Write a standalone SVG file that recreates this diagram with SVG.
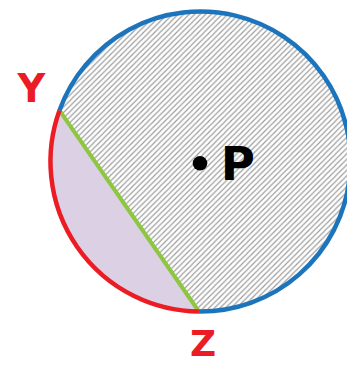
<svg xmlns="http://www.w3.org/2000/svg" width="347" height="365" viewBox="0 0 347 365">
  <style>
    .lbl { font-family: "DejaVu Sans", "Liberation Sans", sans-serif; font-weight: bold; }
    .red { fill: #ec1c24; }
  </style>
  <defs>
    <pattern id="hatch" patternUnits="userSpaceOnUse" width="5.5" height="5.5">
      <path d="M-1,1 L1,-1 M0,5.5 L5.5,0 M4.5,6.5 L6.5,4.5" stroke="#9c9c9c" stroke-width="1.15" fill="none"/>
    </pattern>
  </defs>
  <rect width="347" height="365" fill="#ffffff"/>
  <g id="major-segment">
    <path d="M59.45,110.4 A150,150 0 1 1 198.9,311.5 Z" fill="url(#hatch)"/>
  </g>
  <g id="minor-segment">
    <path d="M59.45,110.4 A150,150 0 0 0 198.9,311.5 Z" fill="#dcd0e5"/>
  </g>
  <g id="connectors">
    <path id="chord-YZ" d="M59.45,110.4 L198.9,311.5" stroke="#8dc63f" stroke-width="4" fill="none"/>
    <path id="arc-major" d="M59.45,110.4 A150,150 0 1 1 198.9,311.5" stroke="#1c75bc" stroke-width="4.5" fill="none"/>
    <path id="arc-minor" d="M59.45,110.4 A150,150 0 0 0 198.9,311.5" stroke="#ec1c24" stroke-width="4.5" fill="none"/>
  </g>
  <g id="center-P">
    <circle cx="200" cy="163.3" r="7.3" fill="#000000"/>
    <text class="lbl" x="220.8" y="180" font-size="46.6" fill="#000000">P</text>
  </g>
  <g id="point-Y">
    <text class="lbl red" x="17.5" y="102" font-size="38.4">Y</text>
  </g>
  <g id="point-Z">
    <text class="lbl red" x="190" y="356" font-size="36">Z</text>
  </g>
</svg>
